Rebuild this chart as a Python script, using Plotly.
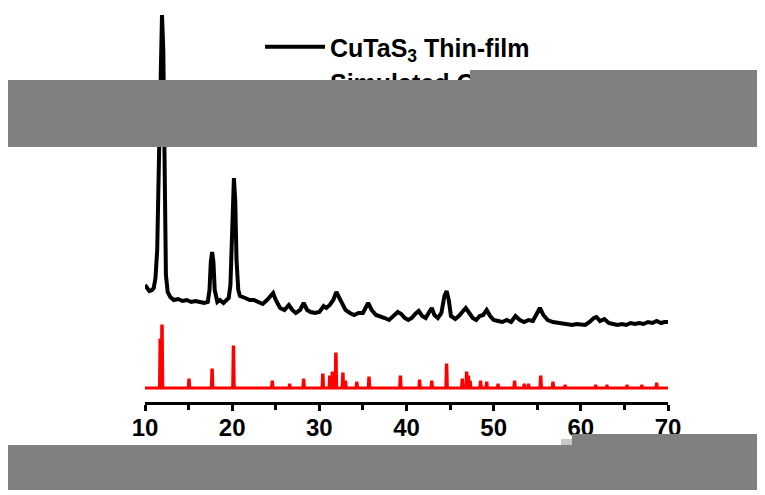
import plotly.graph_objects as go

# ---- data ----
# Measured thin-film pattern (2-theta in degrees, intensity a.u.)
film_2theta = [10.0, 10.2, 10.5, 10.8, 11.0, 11.2, 11.4, 11.6, 11.8, 11.95, 12.1, 12.25, 12.4, 12.6, 12.9,
               13.3, 13.8, 14.3, 14.8, 15.3, 15.8, 16.3, 16.8, 17.2, 17.4, 17.55, 17.7, 17.85, 18.0, 18.3,
               18.6, 19.0, 19.4, 19.6, 19.8, 19.95, 20.1, 20.2, 20.35, 20.5, 20.7, 20.9, 21.5, 22.0, 22.5,
               23.0, 23.5, 24.0, 24.4, 24.7, 25.0, 25.5, 26.0, 26.5, 26.9, 27.3, 27.8, 28.2, 28.6, 29.0,
               29.5, 30.0, 30.5, 30.8, 31.2, 31.6, 31.95, 32.3, 32.6, 33.0, 33.5, 34.0, 34.5, 35.0, 35.6,
               36.0, 36.5, 37.0, 37.5, 38.0, 38.5, 39.0, 39.4, 39.8, 40.2, 40.6, 41.0, 41.4, 41.8, 42.2,
               42.6, 42.9, 43.2, 43.6, 44.0, 44.35, 44.6, 44.85, 45.1, 45.6, 46.0, 46.5, 46.8, 47.2, 47.6,
               48.0, 48.4, 48.8, 49.2, 49.6, 50.0, 50.5, 51.0, 51.5, 52.0, 52.5, 53.0, 53.5, 54.0, 54.5,
               55.0, 55.3, 55.7, 56.2, 56.8, 57.5, 58.0, 58.5, 59.0, 59.5, 60.0, 60.5, 61.0, 61.5, 61.8,
               62.2, 62.7, 63.2, 63.7, 64.2, 64.7, 65.2, 65.7, 66.2, 66.7, 67.2, 67.7, 68.2, 68.7, 69.2,
               69.6, 70.0]
film_intensity = [1170, 1140, 1110, 1120, 1140, 1240, 1520, 2420, 3570, 3870, 3520, 2020, 1270, 1100, 1050,
                  1020, 1030, 1010, 1020, 1000, 1010, 1000, 990, 1000, 1120, 1400, 1500, 1400, 1120, 1000,
                  1020, 990, 1020, 1040, 1170, 1520, 2120, 2240, 2020, 1420, 1120, 1060, 1040, 1020, 1020,
                  1000, 980, 1020, 1060, 1090, 1020, 940, 920, 970, 920, 890, 920, 990, 920, 900,
                  890, 900, 960, 940, 970, 1020, 1100, 1040, 970, 920, 890, 870, 890, 890, 990,
                  920, 870, 860, 840, 820, 860, 900, 880, 840, 820, 840, 880, 910, 860, 840,
                  900, 940, 870, 840, 890, 1060, 1110, 1020, 860, 830, 860, 920, 940, 890, 840,
                  820, 860, 870, 920, 860, 820, 810, 800, 820, 800, 860, 820, 800, 820, 810,
                  880, 940, 870, 820, 800, 790, 780, 770, 770, 780, 770, 770, 800, 840, 850,
                  810, 830, 790, 780, 770, 780, 770, 790, 780, 790, 780, 800, 790, 810, 790,
                  800, 800]

# Simulated pattern: reflection positions and relative intensities
sim_2theta = [11.75, 11.95, 15.05, 17.7, 20.15, 24.6, 26.6, 28.2, 30.4, 31.2, 31.5, 31.9, 32.7, 33.0,
              34.3, 35.7, 39.3, 41.5, 42.9, 44.6, 46.4, 46.9, 47.1, 47.3, 48.5, 49.2, 50.5, 52.4, 53.5,
              54.0, 55.4, 56.8, 58.2, 61.7, 63.0, 65.3, 67.0, 68.7]
sim_intensity = [480, 620, 80, 180, 410, 60, 30, 80, 130, 110, 150, 340, 140, 60,
                 50, 100, 110, 70, 60, 230, 80, 150, 110, 60, 60, 50, 30, 60, 30,
                 30, 110, 50, 20, 20, 20, 20, 20, 40]
sim_offset = 140

x_ticks = [10, 20, 30, 40, 50, 60, 70]
film_name = "CuTaS<sub>3</sub> Thin-film"
sim_name = "Simulated CuTaS<sub>3</sub>"

# ---- build simulated stick pattern on a baseline ----
half_base, half_top = 0.09, 0.03
sx, sy = [10.0], [sim_offset]
for p, h in sorted(zip(sim_2theta, sim_intensity)):
    sx += [p - half_base, p - half_top, p + half_top, p + half_base]
    sy += [sim_offset, sim_offset + h, sim_offset + h, sim_offset]
sx.append(70.0)
sy.append(sim_offset)

fig = go.Figure()
fig.add_trace(go.Scatter(x=film_2theta, y=film_intensity, mode="lines", name=film_name,
                         line=dict(color="black", width=4)))
fig.add_trace(go.Scatter(x=sx, y=sy, mode="lines", name=sim_name,
                         line=dict(color="red", width=3)))

# page has an 8px body margin: figure origin sits at page (8, 8)
OFF = 8
W, H = 765 - OFF, 495 - OFF
L, R, T, B = 145, 668, OFF, 402          # plot area in page pixels
def px(x):
    return (x - L) / (R - L)
def py(y):
    return (B - y) / (B - T)

gray = "#808080"
boxes = [  # (x0, x1, y0, y1) in page pixels, colour
    ((7, 765, 80, 147), gray),
    ((470, 765, 70, 80), gray),
    ((7, 765, 445, 490), gray),
    ((572, 765, 434, 445), gray),
    ((561, 572, 439, 445), "#c8c8c8"),
]
shapes = [dict(type="rect", xref="paper", yref="paper", x0=px(a), x1=px(b), y0=py(d), y1=py(c),
               fillcolor=col, line_width=0, layer="above") for (a, b, c, d), col in boxes]

# the top masks must also sit over the legend, so draw them as annotation boxes too
annotations = [dict(xref="paper", yref="paper", x=px(a), y=py(c), xanchor="left", yanchor="top",
                    width=b - a, height=d - c, text=" ", showarrow=False, bgcolor=col,
                    borderpad=0, borderwidth=0, font=dict(size=1))
               for (a, b, c, d), col in boxes[:2]]

fig.update_layout(
    width=W, height=H,
    margin=dict(l=L - OFF, r=W - (R - OFF), t=T - OFF, b=H - (B - OFF)),
    paper_bgcolor="white", plot_bgcolor="white",
    font=dict(family="Liberation Sans, Arial, sans-serif", color="black"),
    showlegend=True,
    legend=dict(x=px(260), y=py(24), xanchor="left", yanchor="top", itemwidth=60,
                font=dict(size=25, weight="bold", color="black"),
                bgcolor="rgba(0,0,0,0)", tracegroupgap=0),
    shapes=shapes,
    annotations=annotations,
    xaxis=dict(range=[10, 70], tickvals=x_ticks, ticktext=[str(t) for t in x_ticks],
               showline=True, linewidth=3, linecolor="black", mirror=False,
               ticks="outside", ticklen=6, tickwidth=3, tickcolor="black", ticklabelstandoff=-4,
               minor=dict(dtick=5, tick0=10, ticks="outside", ticklen=5, tickwidth=3, tickcolor="black"),
               showgrid=False, zeroline=False,
               tickfont=dict(size=24, weight="bold", color="black")),
    yaxis=dict(range=[0, (B - T) * 10], visible=False, showgrid=False, zeroline=False),
)

fig.write_html("out.html")
